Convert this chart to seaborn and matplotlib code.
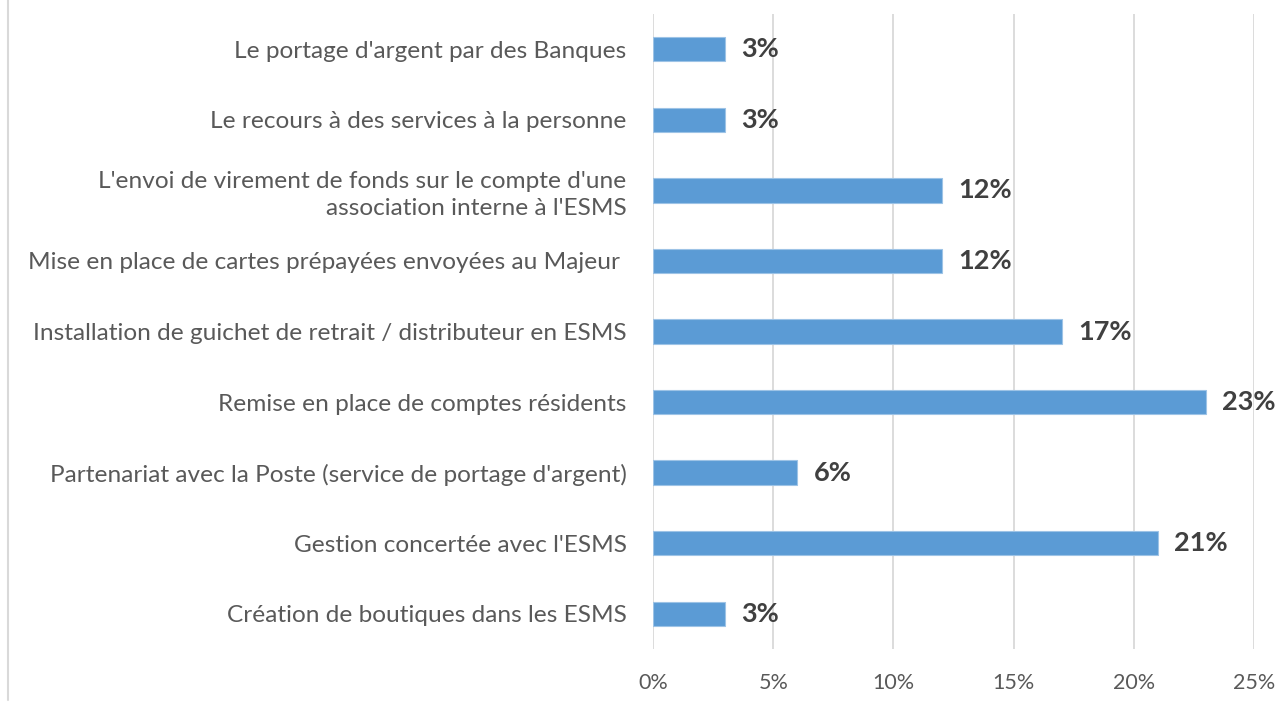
import pandas as pd
import matplotlib.pyplot as plt
import seaborn as sns
from matplotlib.lines import Line2D
from matplotlib.ticker import PercentFormatter

categories = [
    "Le portage d'argent par des Banques",
    "Le recours à des services à la personne",
    "L'envoi de virement de fonds sur le compte d'une\nassociation interne à l'ESMS",
    "Mise en place de cartes prépayées envoyées au Majeur ",
    "Installation de guichet de retrait / distributeur en ESMS",
    "Remise en place de comptes résidents",
    "Partenariat avec la Poste (service de portage d'argent)",
    "Gestion concertée avec l'ESMS",
    "Création de boutiques dans les ESMS",
]
values = [3, 3, 12, 12, 17, 23, 6, 21, 3]
ticks = [0, 5, 10, 15, 20, 25]

sns.set_style("white")
plt.rcParams['font.family'] = ['Lato', 'DejaVu Sans']

df = pd.DataFrame({'label': categories, 'pct': values})

fig = plt.figure(figsize=(12.8, 7.02), dpi=100)
ax = fig.add_axes([0.5102, 0.0755, 0.4695, 0.9045])
sns.barplot(data=df, x='pct', y='label', color='#5B9BD5', saturation=1,
            width=0.345, ax=ax, edgecolor='#9DC3E6', linewidth=0.8)

ax.set_xlim(0, 25)
ax.set_ylim(8.5, -0.5)
ax.set_xticks(ticks)
ax.xaxis.set_major_formatter(PercentFormatter(decimals=0))
ax.grid(axis='x', color='#d9d9d9', linewidth=1.3)
ax.set_axisbelow(True)
for s in ax.spines.values():
    s.set_visible(False)
ax.set_xlabel('')
ax.set_ylabel('')
ax.tick_params(axis='y', length=0, pad=19, labelsize=17.6, labelcolor='#595959')
ax.tick_params(axis='x', length=0, pad=17, labelsize=15.5, labelcolor='#595959')
for t in ax.get_yticklabels():
    t.set_horizontalalignment('right')
    t.set_linespacing(1.3)

for i, v in enumerate(values):
    ax.text(v + 0.68, i, f"{v}%", va='center', ha='left', fontsize=19.5,
            fontweight='bold', color='#404040')

fig.add_artist(Line2D([0.0065, 0.0065], [0.003, 1.0], color='#d9d9d9', linewidth=1.5))

fig.savefig('out.png', dpi=100)
